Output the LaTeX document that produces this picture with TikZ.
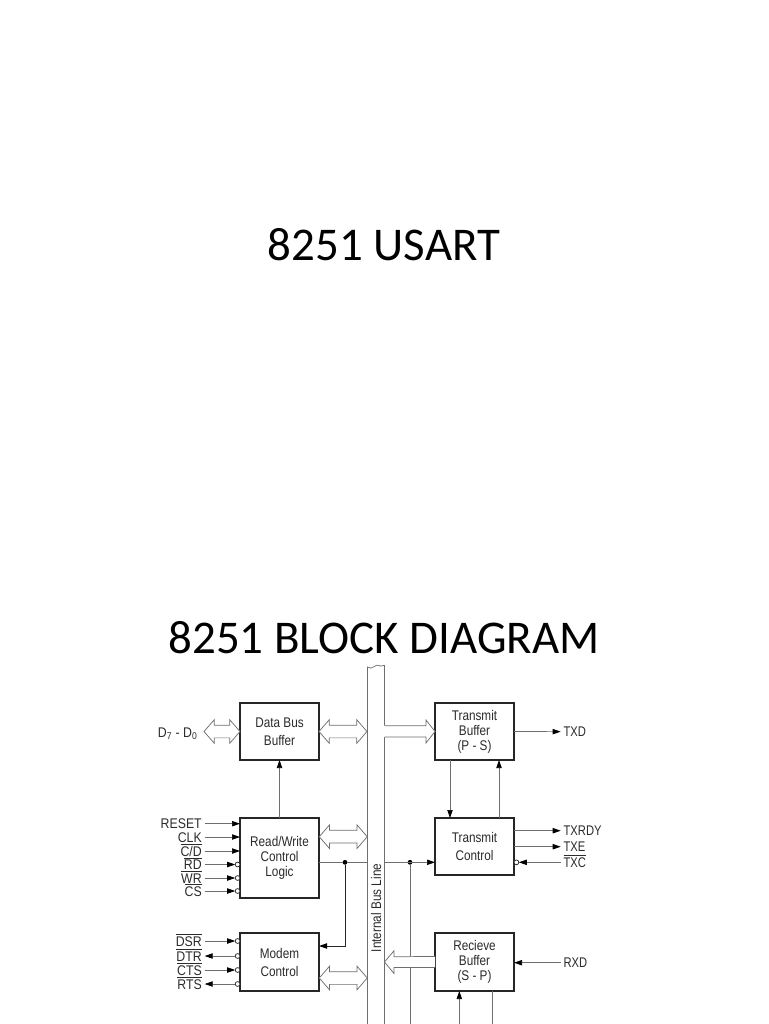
\documentclass[tikz,border=0pt]{standalone}
\usepackage{fontspec}
\setmainfont{Liberation Sans}
\newfontfamily\slidefont{Carlito}
\newfontfamily\blockfont[FakeStretch=0.84]{Liberation Sans}
\newfontfamily\inputfont[FakeStretch=0.88]{Liberation Sans}
\newfontfamily\outputfont[FakeStretch=0.8]{Liberation Sans}
\definecolor{BoxDark} {HTML}{262626}
\definecolor{WireGray}{HTML}{6E6E6E}
\definecolor{LabelInk}{HTML}{2B2B2B}
\usetikzlibrary{arrows.meta,positioning,shapes.arrows,calc}
\newcommand{\sigbar}[1]{$\overline{\mbox{#1}}$}
\tikzset{
  >={Triangle[length=6pt,width=4pt,color=black]},
  slidetitle/.style={font=\fontsize{35.2}{40}\slidefont,text=black},
  blockbox/.style={draw=BoxDark,line width=0.8pt,fill=white,outer sep=0pt,inner sep=0pt,
    minimum width=59.25pt,align=center,text=LabelInk,
    font=\fontsize{10.5}{11.25}\blockfont},
  siglabel/.style={inner xsep=2pt,inner ysep=0pt,text height=7.5pt,text depth=0pt,text=LabelInk},
  sigleft/.style={siglabel,anchor=east,font=\fontsize{10.5}{11.25}\inputfont},
  sigright/.style={siglabel,anchor=west,font=\fontsize{10.5}{11.25}\outputfont},
  wire/.style={draw=WireGray,line width=0.55pt},
  darkwire/.style={draw=BoxDark,line width=0.7pt},
  bubble/.style={circle,draw=BoxDark,fill=white,line width=0.55pt,minimum size=3.6pt,inner sep=0pt,outer sep=0pt},
  junction/.style={circle,fill=black,minimum size=3.6pt,inner sep=0pt,outer sep=0pt},
  busarrow/.style={double arrow,draw=WireGray,fill=white,line width=0.55pt,inner sep=0pt,outer sep=0pt,
    inner ysep=4.5pt,double arrow head extend=4.1pt,double arrow tip angle=98,
    double arrow head indent=0pt},
  hollow/.style={draw=WireGray,fill=white,line width=0.55pt}
}
\begin{document}
\begin{tikzpicture}[x=0.75pt,y=-0.75pt]
  \useasboundingbox (0,0) rectangle (768,1024);
  \node[slidetitle] (TITLEA) at (384,245) {8251 USART};
  \node[slidetitle] (TITLEB) at (384,638) {8251 BLOCK DIAGRAM};
  % blocks, left column
  \node[blockbox,minimum height=42.75pt] (DB) at (279.5,731.5) {Data Bus\\[2.25pt]Buffer};
  \node[blockbox,minimum height=60pt,below=43.5pt of DB] (RW) {Read/Write\\Control\\Logic};
  \node[blockbox,minimum height=43.5pt,below=26.25pt of RW] (MC) {Modem\\[2.25pt]Control};
  % blocks, right column
  \node[blockbox,minimum height=42.75pt,right=87pt of DB] (TB) {Transmit\\Buffer\\(P - S)};
  \node[blockbox,minimum height=42.75pt,below=43.5pt of TB] (TC) {Transmit\\[2.25pt]Control};
  \node[blockbox,minimum height=43.5pt,below=43.5pt of TC] (RB) {Recieve\\Buffer\\(S - P)};
  % bus
  \coordinate (BUSW) at (367.5,0);
  \coordinate (BUSE) at (384.5,0);
  \draw[wire] (367.5,1024) -- (367.5,667) .. controls (372,671) and (376,663) .. (379,665.5)
    .. controls (381,667.5) and (383,664) .. (384.5,665.5) -- (384.5,725.7)
    (384.5,737) -- (384.5,1024);
  \node[rotate=90,inner sep=0pt,text=LabelInk,font=\fontsize{10.5}{11.25}\blockfont] (BUSNAME) at (376,908) {Internal Bus Line};
  % left signals
  \node[sigleft] (DATA) at (200.5,732.5) {D\textsubscript{7} - D\textsubscript{0}};
  \node[sigleft] (RESET) at (204.7,823.7) {RESET};
  \node[sigleft] (CLK) at (204.7,837) {CLK};
  \node[sigleft] (CD) at (204.7,851) {\sigbar{C/D}};
  \node[sigleft] (RD) at (204.7,864.5) {\sigbar{RD}};
  \node[sigleft] (WR) at (204.7,878) {\sigbar{WR}};
  \node[sigleft] (CS) at (204.7,891) {\sigbar{CS}};
  \node[sigleft] (DSR) at (204.7,941) {\sigbar{DSR}};
  \node[sigleft] (DTR) at (204.7,956) {\sigbar{DTR}};
  \node[sigleft] (CTS) at (204.7,970) {\sigbar{CTS}};
  \node[sigleft] (RTS) at (204.7,984) {\sigbar{RTS}};
  \node[bubble,anchor=east] (NRD) at (RD -| RW.west) {};
  \node[bubble,anchor=east] (NWR) at (WR -| RW.west) {};
  \node[bubble,anchor=east] (NCS) at (CS -| RW.west) {};
  \node[bubble,anchor=east] (NDSR) at (DSR -| MC.west) {};
  \node[bubble,anchor=east] (NDTR) at (DTR -| MC.west) {};
  \node[bubble,anchor=east] (NCTS) at (CTS -| MC.west) {};
  \node[bubble,anchor=east] (NRTS) at (RTS -| MC.west) {};
  \draw[->,wire] (RESET) -- (RESET -| RW.west);
  \draw[->,wire] (CLK) -- (CLK -| RW.west);
  \draw[->,wire] (CD) -- (CD -| RW.west);
  \draw[->,wire] (RD) -- (NRD);
  \draw[->,wire] (WR) -- (NWR);
  \draw[->,wire] (CS) -- (NCS);
  \draw[->,wire] (DSR) -- (NDSR);
  \draw[->,wire] (NDTR) -- (DTR);
  \draw[->,wire] (CTS) -- (NCTS);
  \draw[->,wire] (NRTS) -- (RTS);
  % right signals
  \node[sigright] (TXD) at (560.7,731.7) {TXD};
  \node[sigright] (TXRDY) at (560.7,830.7) {TXRDY};
  \node[sigright] (TXE) at (560.7,846.7) {TXE};
  \node[sigright] (TXC) at (560.7,862.3) {\sigbar{TXC}};
  \node[sigright] (RXD) at (560.7,962.7) {RXD};
  \node[bubble,anchor=west] (NTXC) at (TXC -| TC.east) {};
  \draw[->,wire] (TB.east) -- (TXD);
  \draw[->,wire] (TXRDY -| TC.east) -- (TXRDY);
  \draw[->,wire] (TXE -| TC.east) -- (TXE);
  \draw[->,wire] (TXC) -- (NTXC);
  \draw[->,wire] (RXD) -- (RXD -| RB.east);
  % between blocks
  \draw[->,wire] (RW.north) -- (DB.south);
  \draw[->,wire] ($(TB.south west)+(15,0)$) -- ($(TC.north west)+(15,0)$);
  \draw[->,wire] ($(TC.north east)+(-15,0)$) -- ($(TB.south east)+(-15,0)$);
  \node[junction] (JRW) at (345,862.3) {};
  \node[junction] (JTC) at (410,862.3) {};
  \draw[wire] (RW.east |- JRW) -- (JRW) -- (JRW -| BUSW);
  \draw[->,darkwire] (JRW) |- ($(MC.north east)+(0,13)$);
  \draw[->,wire] (JTC -| BUSE) -- (JTC -| TC.west);
  \draw[wire] (JTC) -- (410,1024);
  \draw[->,wire] ($(RB.south west)+(24.3,33)$) -- ($(RB.south west)+(24.3,0)$);
  \draw[wire] ($(RB.south east)+(-21.7,0)$) -- ($(RB.south east)+(-21.7,33)$);
  % data paths
  \node[busarrow,minimum height=27pt,minimum width=17.2pt,left=0pt of DB] (DBL) {};
  \node[busarrow,minimum height=36pt,minimum width=17.2pt,right=0pt of DB] (DBR) {};
  \node[busarrow,minimum height=36pt,minimum width=17.2pt] (RWR) at (343.25,836.7) {};
  \node[busarrow,minimum height=36pt,minimum width=17.2pt] (MCR) at (343.25,978) {};
  \draw[hollow] ($(TB.west -| BUSE)+(0,-5.8)$) -- ($(TB.west)+(-9,-5.8)$) -- ($(TB.west)+(-9,-11.5)$)
    -- (TB.west) -- ($(TB.west)+(-9,11.5)$) -- ($(TB.west)+(-9,5.6)$) -- ($(TB.west -| BUSE)+(0,5.6)$);
  \draw[hollow] ($(RB.west)+(0,-5.5)$) -- (394,956.7) -- (394,950.7) -- (RB.west -| BUSE)
    -- (394,973.5) -- (394,967.5) -- ($(RB.west)+(0,5.5)$);
\end{tikzpicture}
\end{document}
